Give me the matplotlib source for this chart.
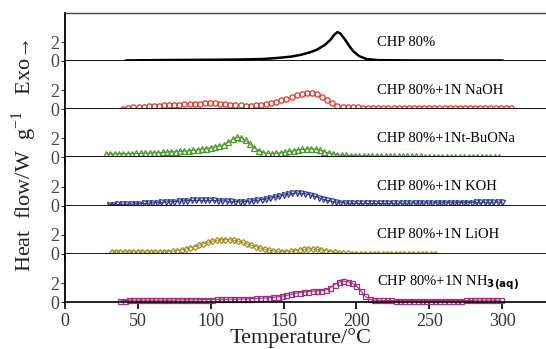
import numpy as np
import matplotlib.pyplot as plt

plt.rcParams['font.family'] = ['Liberation Serif', 'DejaVu Serif']
plt.rcParams['mathtext.fontset'] = 'custom'
plt.rcParams['mathtext.rm'] = 'Liberation Serif'

# sample labels
labels = ["CHP 80%", "CHP 80%+1N NaOH", "CHP 80%+1Nt-BuONa", "CHP 80%+1N KOH",
          "CHP 80%+1N LiOH", r"CHP 80%+1N NH$_{\mathbf{3(aq)}}$"]

# CHP 80% (line)
t_chp = [42, 60, 80, 100, 120, 135, 145, 155, 162, 168, 173, 178, 182, 185, 187,
         189, 192, 195, 198, 202, 207, 215, 240, 270, 300]
q_chp = [0.05, 0.08, 0.1, 0.12, 0.15, 0.2, 0.3, 0.45, 0.65, 0.9, 1.2, 1.65, 2.2, 2.8, 3.05,
         2.9, 2.3, 1.6, 1.0, 0.5, 0.2, 0.08, 0.05, 0.05, 0.05]

# +NaOH, sampled every 3.5 C from 40 C
q_naoh = [0.05, 0.12, 0.18, 0.22, 0.26, 0.3, 0.33, 0.36, 0.4, 0.43, 0.46, 0.48, 0.5, 0.52, 0.55,
          0.58, 0.62, 0.64, 0.62, 0.58, 0.52, 0.46, 0.42, 0.4, 0.38, 0.38, 0.4, 0.44, 0.5, 0.6,
          0.75, 0.92, 1.1, 1.3, 1.48, 1.62, 1.7, 1.68, 1.55, 1.3, 0.95, 0.6, 0.38, 0.25, 0.2,
          0.18, 0.18, 0.17, 0.17, 0.17, 0.16, 0.16, 0.16, 0.16, 0.16, 0.16, 0.16, 0.16, 0.16, 0.16,
          0.16, 0.16, 0.16, 0.16, 0.16, 0.16, 0.16, 0.16, 0.16, 0.16, 0.16, 0.16, 0.16, 0.16, 0.16,
          0.16, 0.16]
t_naoh = np.arange(len(q_naoh)) * 3.5 + 40

# +t-BuONa, every 3 C from 28 C
q_buona = [0.35, 0.35, 0.36, 0.37, 0.38, 0.39, 0.4, 0.41, 0.42, 0.43, 0.45, 0.47, 0.5, 0.52, 0.55,
           0.58, 0.6, 0.63, 0.66, 0.7, 0.75, 0.8, 0.86, 0.93, 1.0, 1.1, 1.2, 1.35, 1.6, 1.9,
           2.1, 2.05, 1.8, 1.4, 1.0, 0.7, 0.5, 0.42, 0.4, 0.42, 0.48, 0.55, 0.62, 0.7, 0.78,
           0.85, 0.9, 0.9, 0.85, 0.75, 0.6, 0.45, 0.35, 0.28, 0.22, 0.2, 0.18, 0.17, 0.16, 0.15,
           0.15, 0.14, 0.14, 0.13, 0.13, 0.12, 0.12, 0.12, 0.11, 0.11, 0.1, 0.1, 0.1, 0.08, 0.06,
           0.05, 0.05, 0.05, 0.05, 0.05, 0.05, 0.05, 0.05, 0.05, 0.05, 0.05, 0.05, 0.05, 0.05, 0.05, 0.05]
t_buona = np.arange(len(q_buona)) * 3 + 28

# +KOH, every 3 C from 30 C
q_koh = [0.1, 0.1, 0.12, 0.13, 0.15, 0.16, 0.18, 0.2, 0.22, 0.25, 0.28, 0.3, 0.33, 0.36, 0.4,
         0.43, 0.46, 0.5, 0.52, 0.55, 0.55, 0.55, 0.55, 0.55, 0.54, 0.52, 0.5, 0.47, 0.44, 0.42,
         0.4, 0.42, 0.45, 0.5, 0.55, 0.62, 0.7, 0.8, 0.9, 1.0, 1.1, 1.2, 1.28, 1.32, 1.3,
         1.25, 1.15, 1.0, 0.85, 0.7, 0.55, 0.45, 0.38, 0.32, 0.28, 0.25, 0.24, 0.23, 0.22, 0.22,
         0.22, 0.22, 0.22, 0.23, 0.23, 0.23, 0.24, 0.24, 0.25, 0.25, 0.26, 0.26, 0.27, 0.27, 0.28,
         0.28, 0.29, 0.29, 0.3, 0.3, 0.31, 0.31, 0.32, 0.32, 0.33, 0.33, 0.34, 0.34, 0.35, 0.35, 0.36]
t_koh = np.arange(len(q_koh)) * 3 + 30

# +LiOH, every 3 C from 32 C
q_lioh = [0.2, 0.2, 0.2, 0.2, 0.2, 0.2, 0.2, 0.2, 0.2, 0.2, 0.2, 0.2, 0.22, 0.24, 0.27,
          0.32, 0.4, 0.5, 0.62, 0.75, 0.9, 1.05, 1.2, 1.32, 1.42, 1.48, 1.5, 1.48, 1.42, 1.32,
          1.2, 1.05, 0.9, 0.75, 0.6, 0.48, 0.38, 0.3, 0.25, 0.22, 0.22, 0.25, 0.32, 0.4, 0.46,
          0.5, 0.5, 0.47, 0.4, 0.32, 0.22, 0.14, 0.08, 0.05, 0.03, 0.02, 0.02, 0.02, 0.02, 0.02,
          0.02, 0.02, 0.02, 0.02, 0.02, 0.02, 0.02, 0.02, 0.02, 0.02, 0.02, 0.02, 0.02, 0.02, 0.02]
t_lioh = np.arange(len(q_lioh)) * 3 + 32

# +NH3(aq), every 3 C from 38 C
q_nh3 = [0.1, 0.15, 0.2, 0.2, 0.2, 0.2, 0.2, 0.2, 0.2, 0.2, 0.2, 0.2, 0.2, 0.22, 0.22,
         0.22, 0.23, 0.23, 0.24, 0.25, 0.25, 0.26, 0.27, 0.28, 0.28, 0.29, 0.3, 0.3, 0.32, 0.34,
         0.36, 0.38, 0.4, 0.42, 0.45, 0.5, 0.55, 0.62, 0.7, 0.8, 0.92, 1.0, 1.05, 1.1, 1.15,
         1.18, 1.2, 1.25, 1.5, 1.85, 2.1, 2.2, 2.15, 2.0, 1.7, 1.2, 0.6, 0.3, 0.2, 0.18,
         0.17, 0.16, 0.16, 0.15, 0.15, 0.15, 0.15, 0.15, 0.15, 0.15, 0.15, 0.15, 0.15, 0.15, 0.15,
         0.15, 0.15, 0.15, 0.15, 0.16, 0.17, 0.2, 0.2, 0.2, 0.2, 0.2, 0.2, 0.2]
t_nh3 = np.arange(len(q_nh3)) * 3 + 38

# (temps, values, marker, colour, marker size, line width)
series = [(t_naoh, q_naoh, 'o', '#e3342b', 3.8, 0),
          (t_buona, q_buona, '^', '#4b9a2c', 4.5, 0.8),
          (t_koh, q_koh, 'v', '#2d3a8c', 3.6, 0.8),
          (t_lioh, q_lioh, 'D', '#a18e1e', 3.0, 0.6),
          (t_nh3, q_nh3, 's', '#a3307f', 3.6, 0.8)]

fig = plt.figure(figsize=(5.46, 3.49), dpi=100)

left = 65 / 546
px = 1.457 / 546          # figure fraction per degree
top = 1 - 12.7 / 349
bottom = 1 - 302 / 349
h = (top - bottom) / 6

axes = []
for i in range(6):
    ax = fig.add_axes([left, top - (i + 1) * h, 350 * px, h])
    ax.set_xlim(0, 350)
    ax.set_ylim(0, 5.1)
    ax.set_yticks([0, 2])
    ax.set_xticks([0, 50, 100, 150, 200, 250, 300])
    ax.tick_params(axis='y', direction='out', length=3, width=0.8, labelsize=13, pad=1,
                   colors='#333333', labelcolor='#444444')
    ax.tick_params(axis='x', direction='out', length=5, width=1.2, labelsize=13, pad=3,
                   labelcolor='#333333')
    ax.spines['left'].set_linewidth(1.3)
    ax.spines['bottom'].set_linewidth(2.0 if i < 5 else 1.2)
    ax.spines['top'].set_visible(i == 0)
    ax.spines['top'].set_linewidth(1.0)
    ax.spines['top'].set_color('#444444')
    if i < 5:
        ax.tick_params(axis='x', labelbottom=False)
    ax.text(214, 2.0, labels[i], fontsize=10.5, va='center', ha='left')
    axes.append(ax)

axes[0].plot(t_chp, q_chp, color='black', lw=1.8)

for ax, (t, q, m, c, ms, lw) in zip(axes[1:], series):
    ax.plot(t, q, color=c, lw=lw, marker=m, ms=ms, mfc='none', mec=c, mew=0.9,
            clip_on=False)

fig.text(0.551, 0.03, "Temperature/\u00b0C", fontsize=16, ha='center', va='center',
         color='#222222')
fig.text(0.045, 0.555, "Heat  flow/W  g$^{-1}$   Exo\u2192", fontsize=16, rotation=90,
         ha='center', va='center', color='#222222')

fig.savefig("out.png", dpi=100)
